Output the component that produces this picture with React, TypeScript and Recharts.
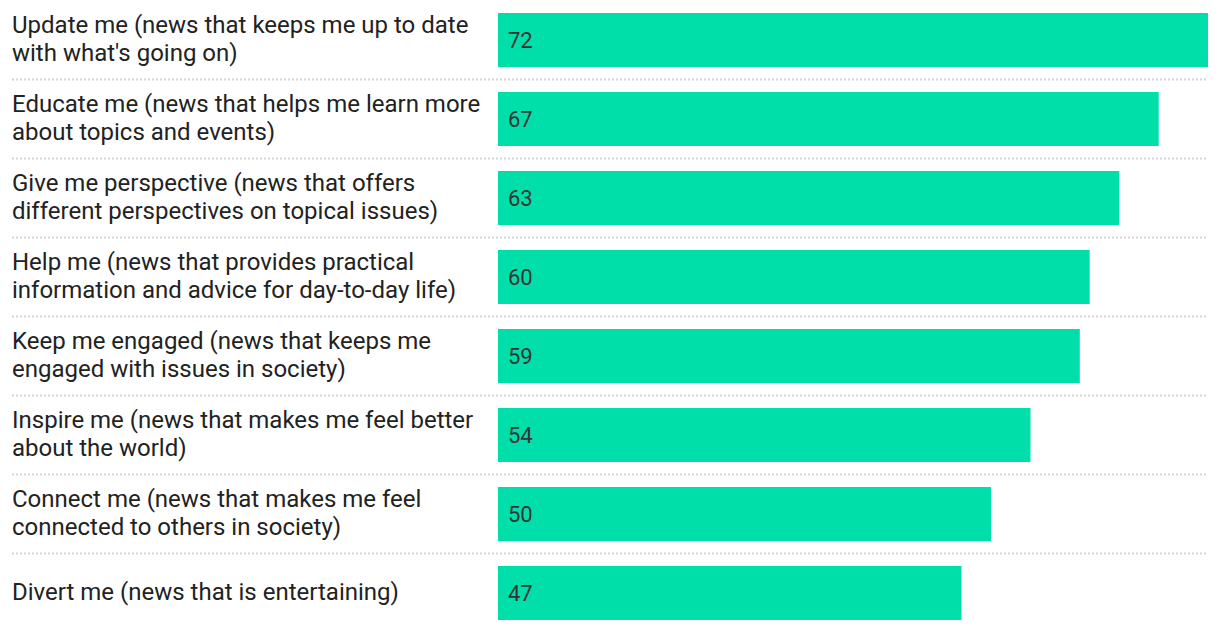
import { Bar, BarChart, XAxis, YAxis, LabelList } from "recharts";

const categories = [
  "Update me (news that keeps me up to date\nwith what's going on)",
  "Educate me (news that helps me learn more\nabout topics and events)",
  "Give me perspective (news that offers\ndifferent perspectives on topical issues)",
  "Help me (news that provides practical\ninformation and advice for day-to-day life)",
  "Keep me engaged (news that keeps me\nengaged with issues in society)",
  "Inspire me (news that makes me feel better\nabout the world)",
  "Connect me (news that makes me feel\nconnected to others in society)",
  "Divert me (news that is entertaining)",
];

const values = [72, 67, 63, 60, 59, 54, 50, 47];

const data = categories.map((name, i) => ({ name, value: values[i] }));

const BAR_COLOR = "#00dea9";
const LABEL_X = 12;
const RULE_END = 1208;
const BAR_SIZE = 54;
const BAND = 632 / categories.length;

function CategoryTick({ y, payload }: { y?: number; payload?: { value: string } }) {
  const lines = String(payload?.value ?? "").split("\n");
  const lh = 28;
  const start = (y ?? 0) - 1 - ((lines.length - 1) * lh) / 2;
  return (
    <text
      x={LABEL_X}
      y={start}
      textAnchor="start"
      fill="#222"
      fontSize={24}
      fontFamily="Roboto, sans-serif"
    >
      {lines.map((l, i) => (
        <tspan key={i} x={LABEL_X} y={start + i * lh} dominantBaseline="central">
          {l}
        </tspan>
      ))}
    </text>
  );
}

// bar rect plus the dotted rule under its row
function BarWithRule(props: any) {
  const { x, y, width, height, fill, index } = props;
  const bottom = y + height + (BAND - BAR_SIZE) / 2;
  return (
    <g>
      <rect x={x} y={y} width={width} height={height} fill={fill} />
      {index < data.length - 1 && (
        <line
          x1={LABEL_X}
          x2={RULE_END}
          y1={bottom}
          y2={bottom}
          stroke="#d4d4d4"
          strokeWidth={2}
          strokeDasharray="2 2"
        />
      )}
    </g>
  );
}

export default function App() {
  return (
    <div style={{ width: 1220, height: 632, background: "#fff" }}>
      <style>{`body{margin:0}`}</style>
      <BarChart
        width={1220}
        height={632}
        data={data}
        layout="vertical"
        margin={{ top: 0, right: 12, left: 0, bottom: 0 }}
      >
        <XAxis type="number" domain={[0, "dataMax"]} hide />
        <YAxis
          type="category"
          dataKey="name"
          width={498}
          axisLine={false}
          tickLine={false}
          tick={<CategoryTick />}
          interval={0}
        />
        <Bar
          dataKey="value"
          fill={BAR_COLOR}
          barSize={BAR_SIZE}
          shape={<BarWithRule />}
          isAnimationActive={false}
        >
          <LabelList
            dataKey="value"
            position="insideLeft"
            offset={10}
            fill="#333"
            fontSize={22}
            fontFamily="Roboto, sans-serif"
          />
        </Bar>
      </BarChart>
    </div>
  );
}
